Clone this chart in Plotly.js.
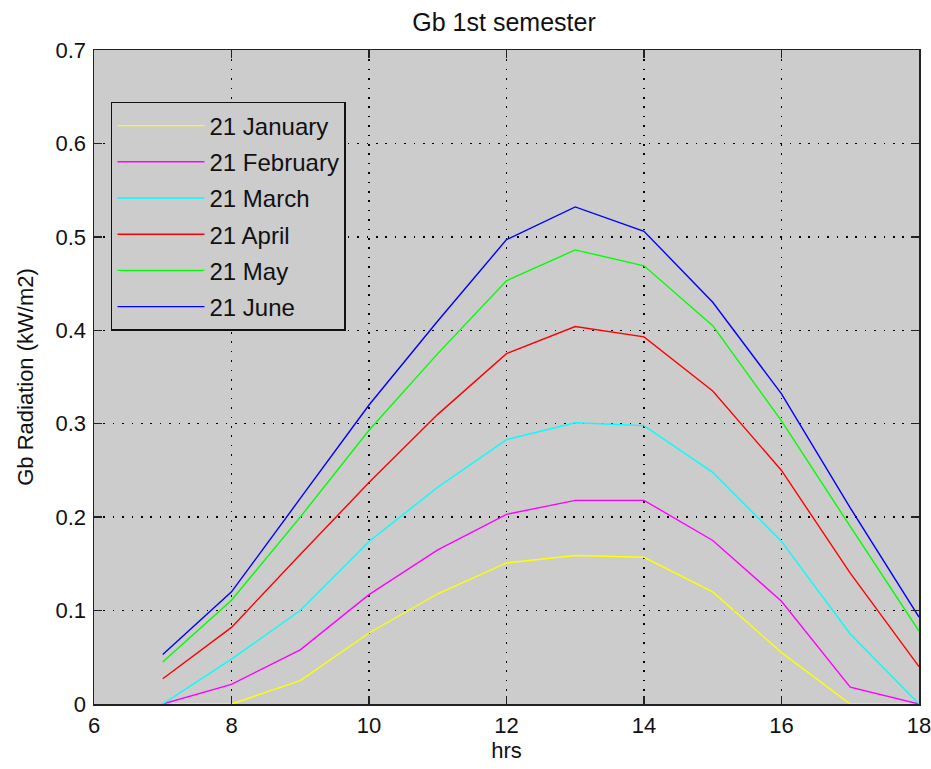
<!DOCTYPE html>
<html>
<head>
<meta charset="utf-8">
<script src="https://cdn.plot.ly/plotly-3.0.1.min.js"></script>
<style>html,body{margin:0;padding:0;background:#fff;}#chart{width:931px;height:769px;}</style>
</head>
<body>
<div id="chart"></div>
<script>
const hours = [7, 8, 9, 10, 11, 12, 13, 14, 15, 16, 17, 18];
const seriesNames = ["21 January", "21 February", "21 March", "21 April", "21 May", "21 June"];
const seriesColors = ["#ffff00", "#ff00ff", "#00ffff", "#ff0000", "#00ff00", "#0000ff"];
const january  = [0.000, 0.000, 0.025, 0.076, 0.118, 0.151, 0.159, 0.157, 0.120, 0.055, 0.000, 0.000];
const february = [0.000, 0.021, 0.058, 0.117, 0.165, 0.203, 0.218, 0.218, 0.175, 0.110, 0.018, 0.000];
const march    = [0.000, 0.048, 0.100, 0.174, 0.232, 0.283, 0.301, 0.298, 0.248, 0.174, 0.075, 0.000];
const april    = [0.027, 0.082, 0.160, 0.237, 0.310, 0.375, 0.404, 0.393, 0.335, 0.250, 0.140, 0.040];
const may      = [0.045, 0.111, 0.200, 0.293, 0.375, 0.453, 0.486, 0.469, 0.405, 0.303, 0.190, 0.078];
const june     = [0.053, 0.120, 0.220, 0.320, 0.410, 0.497, 0.532, 0.506, 0.430, 0.332, 0.210, 0.093];
const xTicks = [6, 8, 10, 12, 14, 16, 18];
const yTicks = [0, 0.1, 0.2, 0.3, 0.4, 0.5, 0.6, 0.7];
const yTickText = ["0", "0.1", "0.2", "0.3", "0.4", "0.5", "0.6", "0.7"];

const allSeries = [january, february, march, april, may, june];
const traces = allSeries.map((vals, i) => ({
  x: hours, y: vals, type: "scatter", mode: "lines",
  name: seriesNames[i], legendgroup: "g" + i,
  line: {color: seriesColors[i], width: 1.4}
}));

const fam = "Liberation Sans, Arial, sans-serif";
const txt = "#111";
const axisCommon = {
  showline: true, linecolor: "#222", linewidth: 1.5, mirror: "ticks",
  ticks: "inside", ticklen: 8, tickcolor: "#222", tickwidth: 1.5,
  showgrid: true, gridcolor: "#000", griddash: "1.5px,7.9px", gridwidth: 1.5,
  zeroline: false, tickfont: {family: fam, size: 22, color: txt},
  ticklabeloverflow: "allow"
};
const layout = {
  width: 931, height: 769,
  paper_bgcolor: "#ffffff", plot_bgcolor: "#cccccc",
  margin: {l: 94, r: 12, t: 50, b: 65},
  font: {family: fam, color: txt, size: 22},
  title: {text: "Gb 1st semester", font: {family: fam, size: 25, color: txt}, x: 0.5414, xanchor: "center", y: 0.971, yanchor: "middle"},
  xaxis: Object.assign({}, axisCommon, {
    range: [6, 18], tickvals: xTicks, ticktext: xTicks.map(String),
    ticklabelstandoff: 1,
    title: {text: "hrs", font: {family: fam, size: 22, color: txt}, standoff: 0}
  }),
  yaxis: Object.assign({}, axisCommon, {
    range: [0, 0.7], tickvals: yTicks, ticktext: yTickText,
    ticklabelstandoff: 2,
    title: {text: "Gb Radiation (kW/m2)", font: {family: fam, size: 22, color: txt}, standoff: 16}
  }),
  showlegend: true,
  legend: {
    x: 0.0206, y: 0.9205, xanchor: "left", yanchor: "top",
    bgcolor: "#cccccc", bordercolor: "#111", borderwidth: 1.5,
    font: {family: fam, size: 24, color: txt},
    traceorder: "grouped", itemwidth: 87, tracegroupgap: 2
  }
};
Plotly.newPlot("chart", traces, layout, {displayModeBar: false, staticPlot: true});
</script>
</body>
</html>
